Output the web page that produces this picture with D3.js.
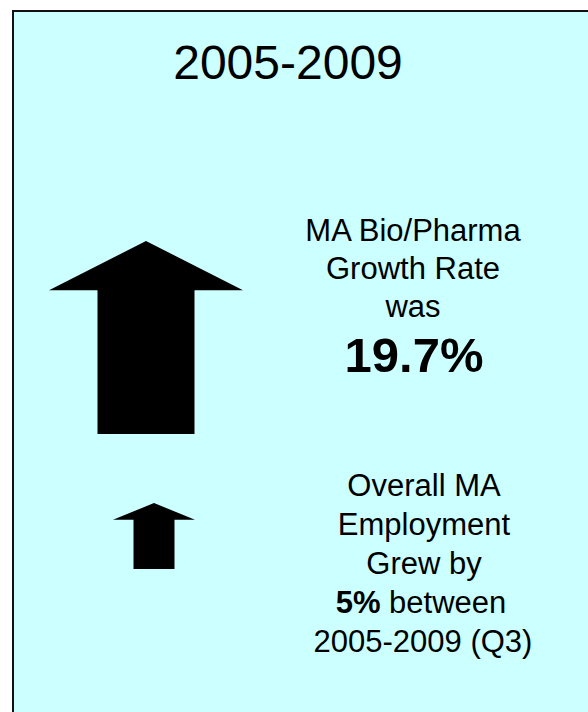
<!DOCTYPE html>
<html>
<head>
<meta charset="utf-8">
<script src="https://cdn.jsdelivr.net/npm/d3@7"></script>
<style>
  html, body { margin: 0; padding: 0; background: #fff; }
  svg { display: block; font-family: "Liberation Sans", Arial, sans-serif; }
</style>
</head>
<body>
<svg id="chart"></svg>
<script>
// growth figures, 2005-2009
var title = "2005-2009";
var categories = ["MA Bio/Pharma", "Overall MA"];
var growth = [19.7, 5];
var bioLines = ["MA Bio/Pharma", "Growth Rate", "was"];
var overallLines = ["Overall MA", "Employment", "Grew by"];
var overallTail = [" between", "2005-2009 (Q3)"];

(function(){
  var width = 588, height = 712;
  var svg = d3.select("#chart").attr("width", width).attr("height", height);

  // panel
  svg.append("rect")
    .attr("x", 13).attr("y", 11)
    .attr("width", width).attr("height", height)
    .style("fill", "#ccffff")
    .style("stroke", "#111")
    .style("stroke-width", 2);

  svg.append("text")
    .attr("x", 288).attr("y", 79)
    .attr("text-anchor", "middle")
    .style("font-size", "48px")
    .text(title);

  // arrow size scales (length and head width both grow with the value)
  var len = d3.scaleLinear().domain([5, 19.7]).range([66, 193]);
  var wid = d3.scaleLinear().domain([5, 19.7]).range([82, 194]);
  var yBase = d3.scalePoint().domain(categories).range([434, 569]);
  var xMid = d3.scalePoint().domain(categories).range([146, 154]);

  var data = categories.map(function(c, i){ return {cat: c, v: growth[i]}; });

  function arrow(d) {
    var L = len(d.v), W = wid(d.v) / 2, S = W / 2, H = L * 0.255;
    var cx = xMid(d.cat), b = yBase(d.cat), t = b - L;
    return d3.line()([
      [cx, t], [cx + W, t + H], [cx + S, t + H], [cx + S, b],
      [cx - S, b], [cx - S, t + H], [cx - W, t + H]
    ]) + "Z";
  }

  svg.selectAll("path.arrow")
    .data(data)
    .enter().append("path")
    .attr("class", "arrow")
    .attr("d", arrow)
    .style("fill", "#000");

  var pct = function(v){ return d3.format("")(v) + "%"; };

  // bio/pharma text block
  var g1 = svg.append("g").attr("text-anchor", "middle").style("font-size", "31px");
  g1.selectAll("text.l")
    .data(bioLines)
    .enter().append("text")
    .attr("class", "l")
    .attr("x", 413)
    .attr("y", function(d, i){ return 241 + i * 38; })
    .text(function(d){ return d; });
  g1.append("text")
    .attr("x", 414).attr("y", 372)
    .style("font-size", "49px")
    .style("font-weight", "bold")
    .text(pct(growth[0]));

  // overall employment text block
  var g2 = svg.append("g").attr("text-anchor", "middle").style("font-size", "31px");
  g2.selectAll("text.l")
    .data(overallLines)
    .enter().append("text")
    .attr("class", "l")
    .attr("x", 424)
    .attr("y", function(d, i){ return 496 + i * 39; })
    .text(function(d){ return d; });
  var t4 = g2.append("text").attr("x", 421).attr("y", 613);
  t4.append("tspan").style("font-weight", "bold").text(pct(growth[1]));
  t4.append("tspan").text(overallTail[0]);
  g2.append("text")
    .attr("x", 423).attr("y", 652)
    .text(overallTail[1]);
})();
</script>
</body>
</html>
